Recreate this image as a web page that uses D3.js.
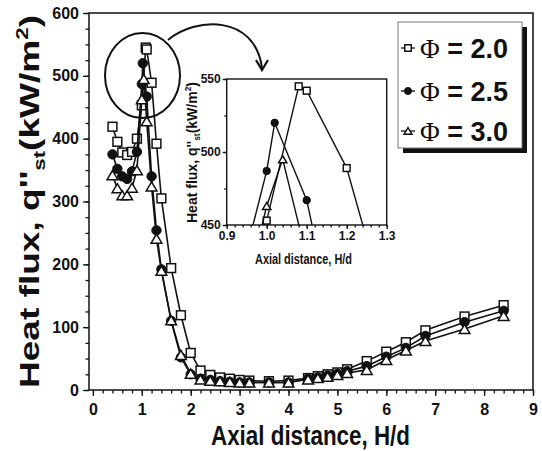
<!DOCTYPE html>
<html>
<head>
<meta charset="utf-8">
<script src="https://cdn.jsdelivr.net/npm/d3@7"></script>
<style>
  html, body { margin: 0; padding: 0; background: #fff; }
  svg { display: block; }
  text { font-family: "Liberation Sans", Arial, sans-serif; font-weight: bold; fill: #111; }
</style>
</head>
<body>
<svg id="chart" width="542" height="451"></svg>
<script>
// Stagnation-point heat flux vs. axial distance for three equivalence ratios
const phiValues = ["2.0", "2.5", "3.0"];

const sqX = [0.4,0.5,0.6,0.7,0.8,0.9,1.0,1.08,1.1,1.2,1.3,1.4,1.6,1.8,2.0,2.2,2.4,2.6,2.8,3.0,3.2,3.6,4.0,4.4,4.6,4.8,5.0,5.2,5.6,6.0,6.4,6.8,7.6,8.4];
const sqY = [419,395,378,374,379,400,453,545,542,489,392,305,194,119,59,31,24,20,18,16,15,14,15,19,22,25,28,33,46,61,76,95,117,135];

const ciX = [0.4,0.5,0.6,0.7,0.8,0.9,1.0,1.02,1.1,1.2,1.3,1.4,1.6,1.8,2.0,2.2,2.4,2.6,2.8,3.0,3.2,3.6,4.0,4.4,4.6,4.8,5.0,5.2,5.6,6.0,6.4,6.8,7.6,8.4];
const ciY = [375,352,340,336,348,379,487,520,467,340,254,192,110,52,25,18,16,14,13,12,12,12,12,18,20,23,26,30,38,53,67,86,108,126];

const trX = [0.4,0.5,0.6,0.7,0.8,0.9,1.0,1.04,1.1,1.2,1.3,1.4,1.6,1.8,2.0,2.2,2.4,2.6,2.8,3.0,3.2,3.6,4.0,4.4,4.6,4.8,5.0,5.2,5.6,6.0,6.4,6.8,7.6,8.4];
const trY = [342,321,310,310,322,350,463,495,428,324,241,190,111,56,26,17,15,14,13,12,12,12,12,17,19,21,24,27,32,48,63,78,97,118];

const xTicks = [0,1,2,3,4,5,6,7,8,9];
const yTicks = [0,100,200,300,400,500,600];
const insetXTicks = [0.9,1.0,1.1,1.2,1.3];
const insetYTicks = [450,500,550];

const series = [
  { kind: "square",   xs: sqX, ys: sqY },
  { kind: "circle",   xs: ciX, ys: ciY },
  { kind: "triangle", xs: trX, ys: trY }
];

const svg = d3.select("#chart");
const ink = "#111";

// ---------- helpers ----------
function drawMarker(g, kind, cx, cy, s) {
  if (kind === "square") {
    g.append("rect").attr("x", cx - s / 2).attr("y", cy - s / 2)
      .attr("width", s).attr("height", s)
      .attr("fill", "#fff").attr("stroke", ink).attr("stroke-width", 1.5);
  } else if (kind === "circle") {
    g.append("circle").attr("cx", cx).attr("cy", cy).attr("r", s / 2 + 0.3)
      .attr("fill", ink).attr("stroke", ink).attr("stroke-width", 1);
  } else {
    const w = s * 1.22, h = w * 0.85;
    g.append("path")
      .attr("d", `M${cx - w / 2},${cy + h / 2}L${cx},${cy - h / 2}L${cx + w / 2},${cy + h / 2}Z`)
      .attr("fill", "#fff").attr("stroke", ink).attr("stroke-width", 1.5)
      .attr("stroke-linejoin", "miter");
  }
}

function drawSeries(g, xS, yS, size, lineW) {
  series.forEach(s => {
    const pts = s.xs.map((x, i) => [x, s.ys[i]]);
    const line = d3.line().x(d => xS(d[0])).y(d => yS(d[1]));
    g.append("path").attr("d", line(pts)).attr("fill", "none")
      .attr("stroke", ink).attr("stroke-width", lineW);
    const mg = g.append("g");
    pts.forEach(p => drawMarker(mg, s.kind, xS(p[0]), yS(p[1]), size));
  });
}

function styleAxis(g, fontSize) {
  g.select(".domain").remove();
  g.selectAll(".tick line").attr("stroke", ink).attr("stroke-width", 1.3);
  g.selectAll(".tick text").attr("fill", ink).style("font-size", fontSize + "px")
    .style("font-weight", "bold").style("font-family", "'Liberation Sans', Arial, sans-serif");
}

function minorValues(lo, hi, step) {
  const out = [];
  const n = Math.round((hi - lo) / step);
  for (let i = 0; i <= n; i++) out.push(+(lo + i * step).toFixed(6));
  return out;
}

// ---------- main plot ----------
const xS = d3.scaleLinear().domain([-0.08, 9]).range([89, 533]);
const yS = d3.scaleLinear().domain([0, 600]).range([390, 13]);

const main = svg.append("g");

// minor ticks
main.append("g").attr("transform", "translate(0,390)")
  .call(d3.axisBottom(xS).tickValues(minorValues(0, 9, 0.2)).tickSize(3.5).tickFormat(""))
  .call(g => styleAxis(g, 10));
main.append("g").attr("transform", "translate(89,0)")
  .call(d3.axisLeft(yS).tickValues(minorValues(0, 600, 25)).tickSize(3.5).tickFormat(""))
  .call(g => styleAxis(g, 10));

// major ticks + labels
main.append("g").attr("transform", "translate(0,390)")
  .call(d3.axisBottom(xS).tickValues(xTicks).tickSize(6).tickPadding(8).tickFormat(d3.format("d")))
  .call(g => styleAxis(g, 16));
main.append("g").attr("transform", "translate(89,0)")
  .call(d3.axisLeft(yS).tickValues(yTicks).tickSize(6).tickPadding(4).tickFormat(d3.format("d")))
  .call(g => styleAxis(g, 16));

// frame
main.append("rect").attr("x", 89).attr("y", 13).attr("width", 444).attr("height", 377)
  .attr("fill", "none").attr("stroke", ink).attr("stroke-width", 1.5);

drawSeries(main.append("g"), xS, yS, 8.8, 1.6);

// axis titles
svg.append("text").attr("x", 211).attr("y", 445)
  .attr("textLength", 199).attr("lengthAdjust", "spacingAndGlyphs")
  .style("font-size", "27px").text("Axial distance, H/d");

function heatFluxTitle(sel, size) {
  sel.append("tspan").text("Heat flux, q''");
  sel.append("tspan").attr("dy", size * 0.22).style("font-size", (size * 0.6) + "px").text("st");
  sel.append("tspan").attr("dy", -size * 0.22).text("(kW/m");
  sel.append("tspan").attr("dy", -size * 0.4).style("font-size", (size * 0.6) + "px").text("2");
  sel.append("tspan").attr("dy", size * 0.4).text(")");
}

const yTitle = svg.append("text")
  .attr("transform", "translate(39,388) rotate(-90)")
  .attr("textLength", 373).attr("lengthAdjust", "spacingAndGlyphs")
  .style("font-size", "27px");
heatFluxTitle(yTitle, 27);

// ---------- highlight ellipse + arrow ----------
svg.append("ellipse").attr("cx", 142.5).attr("cy", 75.5).attr("rx", 37.5).attr("ry", 42.5)
  .attr("fill", "none").attr("stroke", ink).attr("stroke-width", 2);
svg.append("path").attr("d", "M168,40 C195,17 255,14 262,68")
  .attr("fill", "none").attr("stroke", ink).attr("stroke-width", 2);
svg.append("path").attr("d", "M256,60 L262,70 L268,60")
  .attr("fill", "none").attr("stroke", ink).attr("stroke-width", 2.2);

// ---------- inset ----------
const ixS = d3.scaleLinear().domain([0.9, 1.3]).range([226.7, 386.7]);
const iyS = d3.scaleLinear().domain([450, 550]).range([225, 79]);
const inset = svg.append("g");

inset.append("rect").attr("x", 226.7).attr("y", 79).attr("width", 160).attr("height", 146)
  .attr("fill", "#fff");

svg.append("defs").append("clipPath").attr("id", "insetClip")
  .append("rect").attr("x", 226.7).attr("y", 79).attr("width", 160).attr("height", 146);

inset.append("g").attr("transform", "translate(0,225)")
  .call(d3.axisBottom(ixS).tickValues(minorValues(0.9, 1.3, 0.02)).tickSize(2.5).tickFormat(""))
  .call(g => styleAxis(g, 10));
inset.append("g").attr("transform", "translate(226.7,0)")
  .call(d3.axisLeft(iyS).tickValues(minorValues(450, 550, 25)).tickSize(2.5).tickFormat(""))
  .call(g => styleAxis(g, 10));
inset.append("g").attr("transform", "translate(0,225)")
  .call(d3.axisBottom(ixS).tickValues(insetXTicks).tickSize(4).tickPadding(2).tickFormat(d3.format(".1f")))
  .call(g => styleAxis(g, 12));
inset.append("g").attr("transform", "translate(226.7,0)")
  .call(d3.axisLeft(iyS).tickValues(insetYTicks).tickSize(4).tickPadding(2).tickFormat(d3.format("d")))
  .call(g => styleAxis(g, 12));

drawSeries(inset.append("g").attr("clip-path", "url(#insetClip)"), ixS, iyS, 6.8, 1.4);

inset.append("rect").attr("x", 226.7).attr("y", 79).attr("width", 160).attr("height", 146)
  .attr("fill", "none").attr("stroke", ink).attr("stroke-width", 1.4);

svg.append("text").attr("x", 255).attr("y", 264)
  .attr("textLength", 97).attr("lengthAdjust", "spacingAndGlyphs")
  .style("font-size", "14px").text("Axial distance, H/d");

const iyTitle = svg.append("text")
  .attr("transform", "translate(197,223) rotate(-90)")
  .attr("textLength", 141).attr("lengthAdjust", "spacingAndGlyphs")
  .style("font-size", "15px");
heatFluxTitle(iyTitle, 15);

// ---------- legend ----------
const leg = svg.append("g");
leg.append("rect").attr("x", 403).attr("y", 27).attr("width", 124).attr("height", 126).attr("fill", ink);
leg.append("rect").attr("x", 398).attr("y", 22).attr("width", 124).attr("height", 126)
  .attr("fill", "#fff").attr("stroke", "#777").attr("stroke-width", 1);

const rowY = [48, 91, 131];
series.forEach((s, i) => {
  const cy = rowY[i];
  leg.append("line").attr("x1", 401).attr("x2", 415).attr("y1", cy).attr("y2", cy)
    .attr("stroke", ink).attr("stroke-width", 1.3);
  drawMarker(leg, s.kind, 408, cy, 6.5);
  const t = leg.append("text").attr("x", 420).attr("y", cy + 10).style("font-size", "27px");
  t.append("tspan").style("font-family", "'Liberation Serif', 'Times New Roman', serif")
    .style("font-weight", "normal").text("Φ");
  t.append("tspan").text(" = " + phiValues[i]);
});
</script>
</body>
</html>
